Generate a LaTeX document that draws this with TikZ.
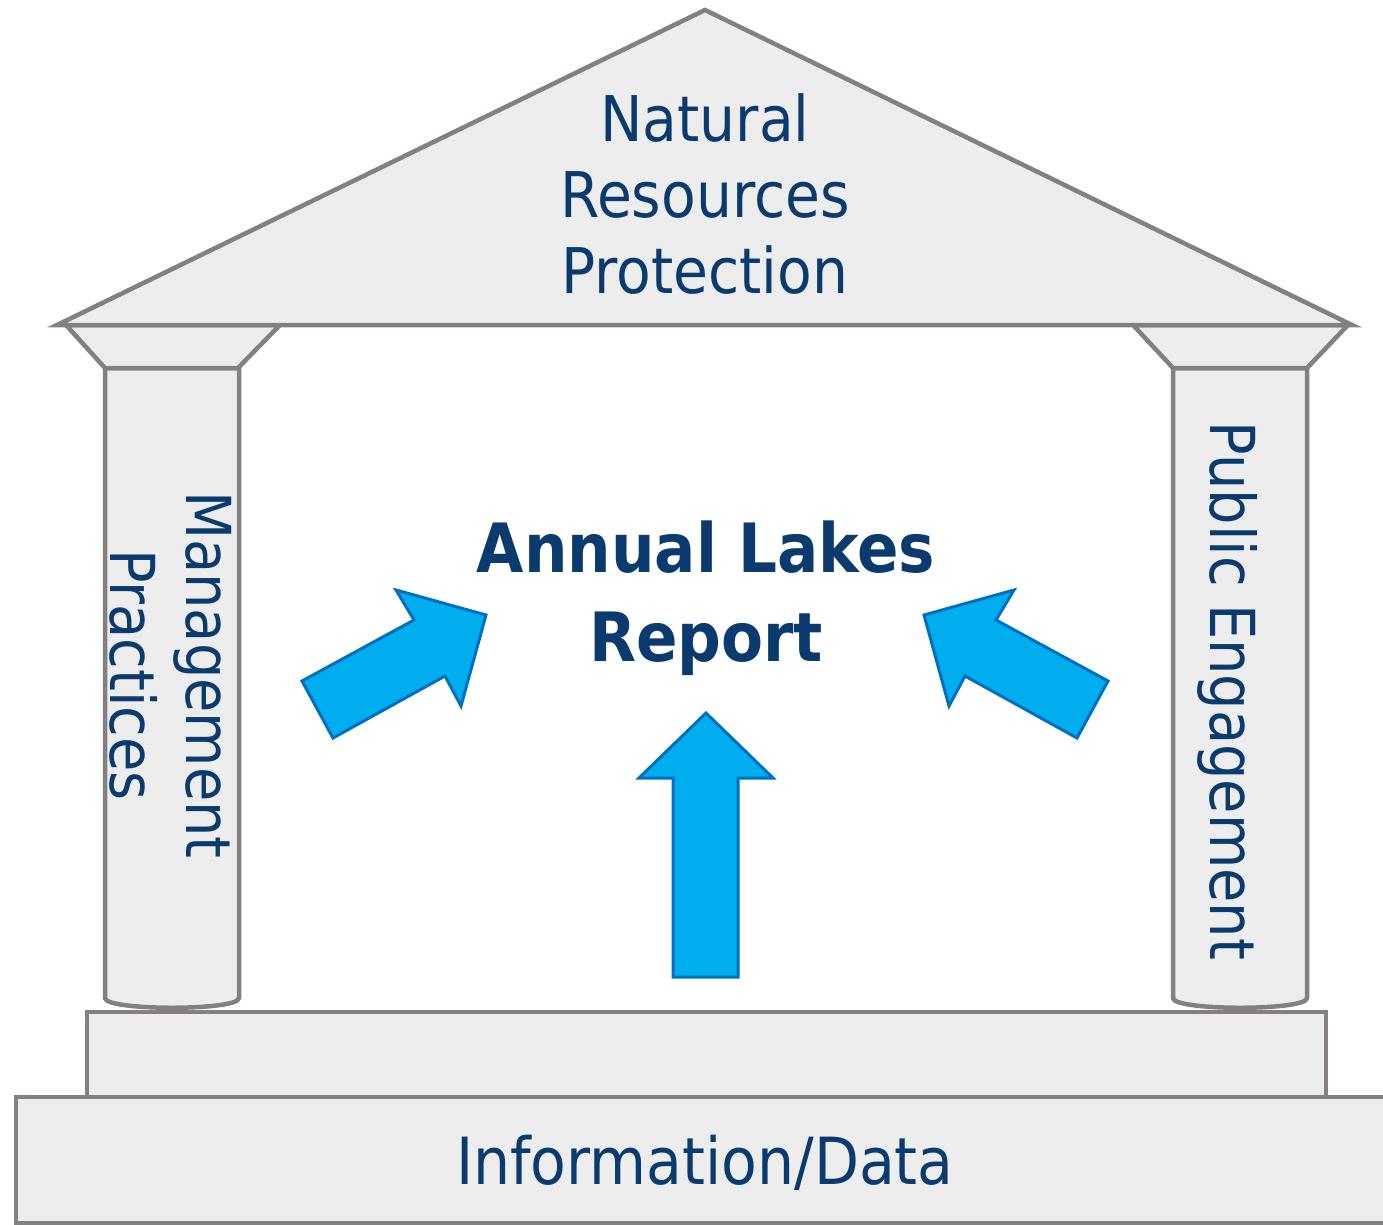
\documentclass[tikz,border=0pt]{standalone}
\usepackage{fontspec}
\setmainfont{DejaVu Sans Condensed}
\definecolor{stonefill}{HTML}{EDEDED}
\definecolor{stoneedge}{HTML}{858080}
\definecolor{arrowfill}{HTML}{00AEEF}
\definecolor{arrowedge}{HTML}{0070C0}
\definecolor{inkblue}{HTML}{0B3A6E}
\tikzset{
  stone/.style={fill=stonefill,draw=stoneedge,line width=4.5pt},
  bigarrow/.style={fill=arrowfill,draw=arrowedge,line width=3pt},
  plaque/.style={text=inkblue,inner sep=0pt,align=center,font=\fontsize{63}{76}\selectfont},
}
\begin{document}
\begin{tikzpicture}[x=1pt,y=-1pt]
        \useasboundingbox (0,0) rectangle (1383,1225);
        % steps
        \draw[stone] (16,1097) rectangle (1395,1223);
        \draw[stone] (87,1012) rectangle (1326,1097);
        % columns
        \draw[stone] (105,368)--(105,998) .. controls (105,1011) and (239,1011) .. (239,998)--(239,368)--cycle;
        \draw[stone] (1173,368)--(1173,998) .. controls (1173,1011) and (1307,1011) .. (1307,998)--(1307,368)--cycle;
        % capitals
        \draw[stone] (66,325)--(280,325)--(238,368)--(105,368)--cycle;
        \draw[stone] (1133,325)--(1348,325)--(1307,368)--(1173,368)--cycle;
        % roof
        \draw[stone] (57,325)--(705,10)--(1352,325)--cycle;

        % arrows
        \draw[bigarrow] (302,681)--(414,620)--(396,590)--(486,615)--(461,706)--(445,676)--(333,738)--cycle;
        \draw[bigarrow] (1108,681)--(996,620)--(1014,590)--(924,615)--(949,706)--(965,676)--(1077,738)--cycle;
        \draw[bigarrow] (673,977)--(673,778)--(639,778)--(706,713)--(773,778)--(738,778)--(738,977)--cycle;

        \node[plaque] (roof) at (705,194) {Natural\\Resources\\Protection};
        \node[plaque,font=\bfseries\fontsize{68}{89}\selectfont] (report) at (706,598) {Annual Lakes\\Report};
        \node[plaque,font=\fontsize{62}{76}\selectfont,rotate=-90] (mgmt) at (171,675) {Management\\Practices};
        \node[plaque,font=\fontsize{62}{76}\selectfont,rotate=-90] (public) at (1228,691) {Public Engagement};
        \node[plaque,font=\fontsize{65}{76}\selectfont] (data) at (705,1163) {Information/Data};
\end{tikzpicture}
\end{document}
